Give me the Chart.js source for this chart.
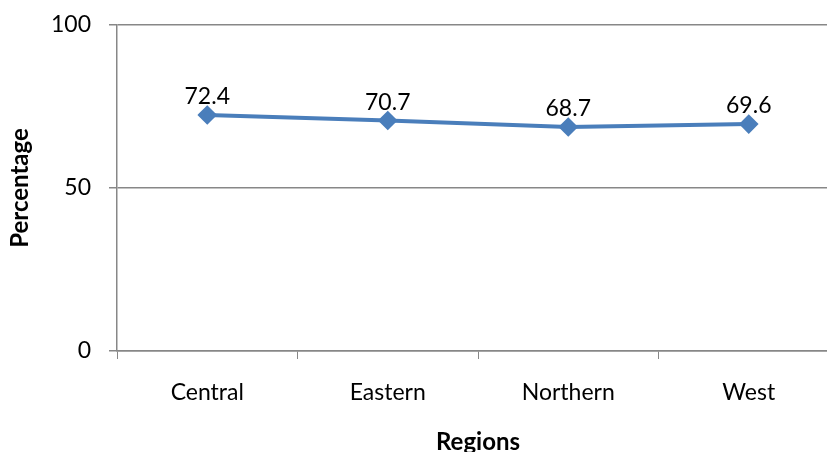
<!DOCTYPE html>
<html>
<head>
<meta charset="utf-8">
<script src="https://cdn.jsdelivr.net/npm/chart.js@4/dist/chart.umd.min.js"></script>
<style>
  html, body { margin: 0; padding: 0; background: #fff; overflow: hidden; }
  #wrap { width: 850px; height: 452px; }
</style>
</head>
<body>
<div id="wrap"><canvas id="c" width="850" height="452"></canvas></div>
<script>
const regions = ['Central', 'Eastern', 'Northern', 'West'];
const percentages = [72.4, 70.7, 68.7, 69.6];
const yTicks = [0, 50, 100];

const FONT = 'Lato, "Open Sans", sans-serif';
const GRID = '#878787';

// Writes each point's value just above its marker
const valueLabels = {
  id: 'valueLabels',
  afterDatasetsDraw(chart) {
    const ctx = chart.ctx;
    const meta = chart.getDatasetMeta(0);
    ctx.save();
    ctx.font = '23px ' + FONT;
    ctx.fillStyle = '#000';
    ctx.textAlign = 'center';
    ctx.textBaseline = 'alphabetic';
    meta.data.forEach((pt, i) => {
      ctx.fillText(percentages[i].toFixed(1), pt.x, pt.y - 11);
    });
    ctx.restore();
  }
};

new Chart(document.getElementById('c'), {
  type: 'line',
  data: {
    labels: regions,
    datasets: [{
      data: percentages,
      borderColor: '#4A7EBB',
      backgroundColor: '#4A7EBB',
      borderWidth: 4,
      pointStyle: 'rectRot',
      pointRadius: 7,
      pointHoverRadius: 7,
      tension: 0
    }]
  },
  options: {
    responsive: false,
    animation: false,
    devicePixelRatio: 1,
    layout: { padding: { top: 25, right: 3, left: 0, bottom: 0 } },
    plugins: { legend: { display: false }, tooltip: { enabled: false } },
    scales: {
      x: {
        offset: true,
        grid: { offset: true, drawOnChartArea: false, color: GRID, tickLength: 8, lineWidth: 1 },
        border: { color: GRID, width: 1.5 },
        ticks: { color: '#000', font: { family: FONT, size: 23 }, padding: 20, maxRotation: 0 },
        title: { display: true, text: 'Regions', color: '#000', font: { family: FONT, size: 24, weight: 'bold' }, padding: { top: 10, bottom: -5 } },
        afterFit(scale) { scale.height = 101; }
      },
      y: {
        min: 0, max: 100,
        afterBuildTicks(scale) { scale.ticks = yTicks.map(v => ({ value: v })); },
        grid: { color: GRID, tickLength: 8, lineWidth: 1.5 },
        border: { color: GRID, width: 1.5 },
        ticks: { color: '#000', font: { family: FONT, size: 23 }, padding: 18 },
        title: { display: true, text: 'Percentage', color: '#000', font: { family: FONT, size: 24, weight: 'bold' }, padding: { top: 6, bottom: 0 } },
        afterFit(scale) {
          scale.width = 117;
          scale.paddingTop = 0;
          scale.paddingBottom = 0;
        }
      }
    }
  },
  plugins: [valueLabels]
});
</script>
</body>
</html>
